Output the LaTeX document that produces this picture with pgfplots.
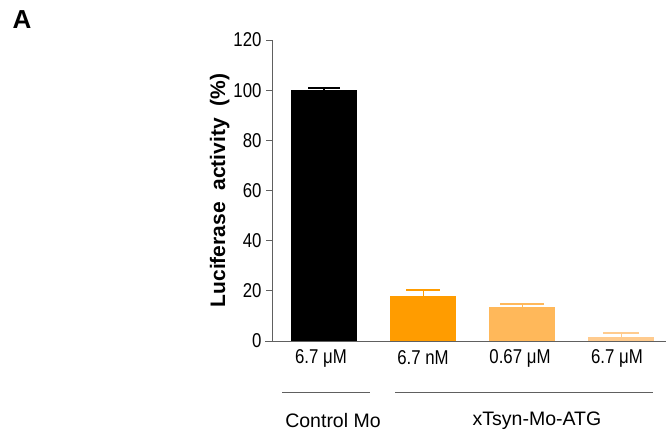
\documentclass[border=0pt]{standalone}
\usepackage{fontspec}
\setmainfont{Liberation Sans}
\newfontfamily\narrowfont[FakeStretch=0.84]{Liberation Sans}
\usepackage{pgfplots}
\pgfplotsset{compat=1.18}
\definecolor{or1}{HTML}{FF9C00}
\definecolor{or2}{HTML}{FFB85A}
\definecolor{or3}{HTML}{FFCB8E}
\definecolor{axgray}{HTML}{606060}
\begin{document}
\begin{tikzpicture}[x=1pt,y=1pt]
\useasboundingbox (-272,-101) rectangle (394,341);
\begin{axis}[
  at={(0,0)}, anchor=south west,
  scale only axis, width=394pt, height=301pt,
  xmin=-0.525, xmax=3.45, ymin=0, ymax=120,
  axis x line=bottom, axis y line=left,
  axis line style={axgray, line width=0.8pt, -},
  xtick=data, xticklabels={}, major x tick style={draw=none},
  ytick={0,20,...,120},
  tick align=outside, major tick length=6pt,
  y tick style={axgray, line width=0.8pt},
  /pgf/number format/assume math mode=true,
  tick label style={font=\fontsize{20}{22}\selectfont\narrowfont},
  yticklabel style={xshift=-1pt},
  ylabel={\textbf{Luciferase\ \ activity\ \ (\%)}},
  ylabel style={font=\fontsize{21}{24}\selectfont, yshift=-3pt},
  ybar, bar width=66pt, bar shift=0pt,
  clip=false,
  error bars/y dir=plus, error bars/y explicit,
]
\addplot[fill=black, draw=none, error bars/error bar style={black, line width=1.2pt},
  error bars/error mark options={rotate=90, black, line width=2pt, mark size=16pt}]
  coordinates {(0,100) +- (0,1)};
\addplot[fill=or1, draw=none, error bars/error bar style={or1, line width=1.2pt},
  error bars/error mark options={rotate=90, or1, line width=2pt, mark size=17pt}]
  coordinates {(1,17.8) +- (0,2.5)};
\addplot[fill=or2, draw=none, error bars/error bar style={or2, line width=1.2pt},
  error bars/error mark options={rotate=90, or2, line width=2pt, mark size=22pt}]
  coordinates {(2,13.6) +- (0,1.1)};
\addplot[fill=or3, draw=none, error bars/error bar style={or3, line width=1.2pt},
  error bars/error mark options={rotate=90, or3, line width=2pt, mark size=18pt}]
  coordinates {(3,1.6) +- (0,1.6)};
\end{axis}
\begin{scope}[font=\fontsize{20}{22}\selectfont\narrowfont]
\node at (49,-17) {6.7 μM};
\node at (151,-17) {6.7 nM};
\node at (248,-17) {0.67 μM};
\node at (345,-17) {6.7 μM};
\end{scope}
\draw[axgray, line width=0.8pt] (10,-51) -- (98,-51);
\draw[axgray, line width=0.8pt] (123,-51) -- (381,-51);
\begin{scope}[font=\fontsize{19.5}{22}\selectfont]
\node at (61,-80) {Control Mo};
\node at (265,-80) {xTsyn-Mo-ATG};
\end{scope}
\draw[axgray, line width=0.8pt] (-7,0) -- (0,0);
\node[font=\fontsize{26}{28}\selectfont\bfseries] at (-250,321) {A};
\end{tikzpicture}
\end{document}
